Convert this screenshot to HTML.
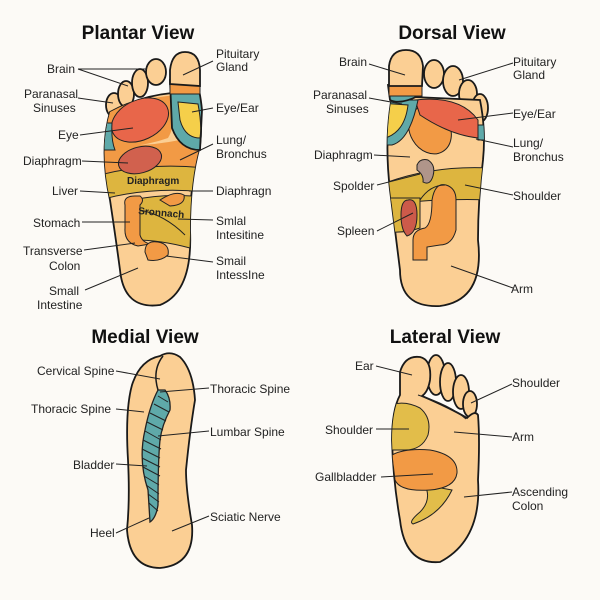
<!DOCTYPE html>
<html><head><meta charset="utf-8"><style>
html,body{margin:0;padding:0;background:#fcfaf6;}
svg{display:block}
text{font-family:"Liberation Sans",sans-serif;fill:#222;font-size:12px}
.t{font-weight:bold;font-size:19px;fill:#111;text-anchor:middle}
.l{stroke:#222;stroke-width:1;fill:none}
.o{stroke:#1a1a1a;stroke-width:1.8}
</style></head><body>
<svg width="600" height="600" viewBox="0 0 600 600">
<defs>
<clipPath id="cp"><path d="M110,112 Q140,96 172,93 L198,96 Q203,120 200,146 Q190,180 190,230 Q193,292 160,305 Q124,310 120,270 Q116,240 110,200 Q99,150 110,112 Z"/></clipPath>
<clipPath id="cd"><path d="M392,96 Q440,98 480,100 Q486,130 483,160 Q478,200 478,240 Q485,300 440,306 Q400,308 400,270 Q395,230 390,190 Q384,140 392,96 Z"/></clipPath>
<clipPath id="cl"><path d="M398,400 Q405,372 430,378 Q470,390 475,410 Q478,440 478,480 Q482,540 440,562 Q405,565 400,520 Q393,480 392,440 Q392,415 398,400 Z"/></clipPath>
</defs>

<!-- ========== PLANTAR ========== -->
<text class="t" x="138" y="39">Plantar View</text>
<ellipse class="o" cx="114" cy="105" rx="8" ry="12" fill="#fbcf94"/>
<ellipse class="o" cx="126" cy="94" rx="8" ry="13" fill="#fbcf94"/>
<ellipse class="o" cx="140" cy="83" rx="8" ry="14" fill="#fbcf94"/>
<ellipse class="o" cx="156" cy="72" rx="10" ry="13" fill="#fbcf94"/>
<path class="o" fill="#fbcf94" d="M110,112 Q140,96 172,93 L198,96 Q203,120 200,146 Q190,180 190,230 Q193,292 160,305 Q124,310 120,270 Q116,240 110,200 Q99,150 110,112 Z"/>
<g clip-path="url(#cp)">
<path d="M100,140 Q130,150 180,140 L205,150 L205,168 Q150,166 100,175 Z" fill="#f29a45"/>
<path d="M100,105 L175,95 Q176,125 168,138 Q140,148 100,148 Z" fill="#f29a45"/>
<ellipse cx="140" cy="120" rx="30" ry="20" transform="rotate(-25 140 120)" fill="#e8664a" stroke="#222" stroke-width="1"/>
<path d="M100,123 L112,123 Q111,140 115,150 L100,150 Z" fill="#5fa9a9" stroke="#222"/>
<path d="M100,175 Q150,162 205,168 L205,192 Q150,186 100,200 Z" fill="#ddb53f" stroke="#222" stroke-width="1"/>
<path d="M133,200 Q160,194 192,196 L190,248 Q160,240 136,240 Z" fill="#ddb53f" stroke="#222" stroke-width="1"/>
<path d="M125,205 Q123,196 135,196 L140,196 Q145,200 140,205 L140,235 Q142,242 150,244 L138,246 Q124,243 125,228 Z" fill="#f29a45" stroke="#222"/>
<path d="M160,200 Q175,190 184,195 Q186,205 170,206 Z" fill="#f29a45" stroke="#222"/>
<path d="M145,252 Q145,240 158,242 Q170,244 168,255 Q160,262 148,260 Z" fill="#f29a45" stroke="#222"/>
<path class="l" d="M140,210 Q165,215 185,235"/>
</g>
<ellipse cx="140" cy="160" rx="22" ry="13" transform="rotate(-15 140 160)" fill="#d1614e" stroke="#222"/>
<path class="o" fill="#5fa9a9" d="M170,80 L172,128 Q180,150 200,150 L202,110 Q200,90 196,80 Z"/>
<path fill="#f5cf4a" stroke="#222" d="M178,102 L198,104 Q202,125 200,138 Q185,138 180,120 Z"/>
<rect x="170" y="82" width="30" height="12" fill="#f29a45" stroke="#222"/>
<path class="o" fill="#fbcf94" d="M170,84 L170,70 Q172,52 185,52 Q199,52 200,70 L200,86 Z"/>
<text x="127" y="184" style="font-size:10px;font-weight:bold">Diaphragm</text>
<text x="138" y="214" style="font-size:10px;font-weight:bold" transform="rotate(5 138 214)">Sronnach</text>
<g class="l">
<path d="M78,69 L147,69 M78,69 L128,86 M78,98 L113,103 M80,135 L133,128 M82,161 L128,163 M80,191 L115,193 M82,222 L130,222 M84,250 L135,243 M85,290 L138,268 M213,61 L183,75 M213,108 L192,112 M213,144 L180,160 M213,191 L189,191 M213,220 L178,219 M213,262 L166,256"/>
</g>
<text x="47" y="73">Brain</text>
<text x="24" y="98">Paranasal</text><text x="33" y="112">Sinuses</text>
<text x="58" y="139">Eye</text>
<text x="23" y="165">Diaphragm</text>
<text x="52" y="195">Liver</text>
<text x="33" y="227">Stomach</text>
<text x="23" y="255">Transverse</text><text x="49" y="270">Colon</text>
<text x="49" y="295">Small</text><text x="37" y="309">Intestine</text>
<text x="216" y="58">Pituitary</text><text x="216" y="71">Gland</text>
<text x="216" y="112">Eye/Ear</text>
<text x="216" y="144">Lung/</text><text x="216" y="158">Bronchus</text>
<text x="216" y="195">Diaphragn</text>
<text x="216" y="225">Smlal</text><text x="216" y="239">Intesitine</text>
<text x="216" y="265">Smail</text><text x="216" y="279">IntessIne</text>

<!-- ========== DORSAL ========== -->
<text class="t" x="452" y="39">Dorsal View</text>
<ellipse class="o" cx="434" cy="74" rx="10" ry="14" fill="#fbcf94"/>
<ellipse class="o" cx="453" cy="81" rx="10" ry="15" fill="#fbcf94"/>
<ellipse class="o" cx="468" cy="94" rx="9" ry="14" fill="#fbcf94"/>
<ellipse class="o" cx="480" cy="108" rx="8" ry="14" fill="#fbcf94"/>
<path class="o" fill="#fbcf94" d="M392,96 Q440,98 480,100 Q486,130 483,160 Q478,200 478,240 Q485,300 440,306 Q400,308 400,270 Q395,230 390,190 Q384,140 392,96 Z"/>
<g clip-path="url(#cd)">
<path d="M478,125 L490,125 L490,140 L478,140 Z" fill="#5fa9a9" stroke="#222"/>
<ellipse cx="430" cy="130" rx="20" ry="25" transform="rotate(-30 430 130)" fill="#f29a45" stroke="#222"/>
<path d="M415,100 Q460,95 478,120 L478,138 Q450,135 420,115 Z" fill="#e8664a" stroke="#222"/>
<path d="M380,100 L418,100 Q410,140 392,145 L380,145 Z" fill="#5fa9a9" stroke="#222"/>
<path d="M380,103 L408,105 Q405,130 388,137 L380,137 Z" fill="#f5cf4a" stroke="#222"/>
<path d="M380,185 Q430,165 490,168 L490,200 Q440,198 380,205 Z" fill="#ddb53f" stroke="#222"/>
<path d="M380,198 L420,198 L420,228 Q400,235 380,230 Z" fill="#ddb53f" stroke="#222"/>
<path d="M413,260 L413,240 Q413,230 425,228 Q432,224 432,200 Q435,182 446,185 Q456,188 456,200 L456,230 Q452,245 440,245 L427,247 L427,260 Z" fill="#f29a45" stroke="#222"/>
<path d="M420,200 Q430,185 445,185" class="l"/>
</g>
<path fill="#b0958a" stroke="#222" d="M417,165 Q420,158 428,160 Q436,165 433,176 Q430,186 423,182 Q424,175 417,170 Z"/>
<path fill="#cc5a4a" stroke="#222" d="M408,200 Q417,198 417,215 Q417,233 407,236 Q401,230 401,215 Q401,200 408,200 Z"/>
<path class="o" fill="#5fa9a9" d="M388,85 L390,100 Q400,105 418,96 L418,85 Z"/>
<rect x="389" y="84" width="33" height="12" fill="#f29a45" stroke="#222"/>
<path class="o" fill="#fbcf94" d="M389,86 L389,66 Q391,50 406,50 Q421,50 423,66 L422,86 Z"/>
<g class="l">
<path d="M369,64 L405,75 M369,98 L402,104 M374,155 L410,157 M377,185 L420,174 M377,231 L413,213 M513,63 L459,80 M513,113 L458,120 M513,147 L476,139 M513,195 L465,185 M513,288 L451,266"/>
</g>
<text x="339" y="66">Brain</text>
<text x="313" y="99">Paranasal</text><text x="326" y="113">Sinuses</text>
<text x="314" y="159">Diaphragm</text>
<text x="333" y="190">Spolder</text>
<text x="337" y="235">Spleen</text>
<text x="513" y="66">Pituitary</text><text x="513" y="79">Gland</text>
<text x="513" y="118">Eye/Ear</text>
<text x="513" y="147">Lung/</text><text x="513" y="161">Bronchus</text>
<text x="513" y="200">Shoulder</text>
<text x="511" y="293">Arm</text>

<!-- ========== MEDIAL ========== -->
<text class="t" x="145" y="343">Medial View</text>
<path class="o" fill="#fbcf94" d="M160,356 Q140,360 132,385 Q125,410 128,460 Q130,500 127,530 Q130,568 160,568 Q195,565 192,525 Q186,490 186,470 Q190,430 195,400 Q193,370 180,357 Q170,350 160,356 Z"/>
<path fill="none" stroke="#1a1a1a" stroke-width="1.5" d="M163,356 Q152,370 158,390"/>
<path fill="#5fa9a9" stroke="#222" stroke-width="1.3" d="M158,390 Q150,405 145,430 Q138,460 148,490 L150,522 Q156,518 158,505 Q158,460 160,440 Q162,425 170,410 Q171,398 165,390 Z"/>
<g class="l" stroke-width="0.9">
<path d="M158,396 L168,402 M154,404 L169,412 M150,413 L166,421 M147,422 L163,430 M145,431 L161,440 M143,440 L161,449 M142,449 L160,458 M142,458 L160,467 M143,467 L160,476 M144,476 L159,485 M146,485 L159,494 M148,494 L159,502 M149,503 L158,511"/>
</g>
<g class="l">
<path d="M116,371 L160,379 M116,409 L144,412 M209,388 L160,392 M209,431 L158,436 M116,464 L147,466 M116,533 L149,518 M209,516 L172,531"/>
</g>
<text x="37" y="375">Cervical Spine</text>
<text x="31" y="413">Thoracic Spine</text>
<text x="73" y="469">Bladder</text>
<text x="90" y="537">Heel</text>
<text x="210" y="393">Thoracic Spine</text>
<text x="210" y="436">Lumbar Spine</text>
<text x="210" y="521">Sciatic Nerve</text>

<!-- ========== LATERAL ========== -->
<text class="t" x="445" y="343">Lateral View</text>
<ellipse class="o" cx="436" cy="375" rx="9" ry="20" fill="#fbcf94"/>
<ellipse class="o" cx="448" cy="382" rx="8" ry="19" fill="#fbcf94"/>
<ellipse class="o" cx="461" cy="392" rx="8" ry="17" fill="#fbcf94"/>
<ellipse class="o" cx="470" cy="404" rx="7" ry="13" fill="#fbcf94"/>
<path class="o" fill="#fbcf94" d="M400,372 Q405,355 420,357 Q432,360 430,380 Q428,392 422,396 Q450,408 467,418 Q475,410 478,415 Q480,440 478,480 Q482,540 440,562 Q405,565 400,520 Q393,480 392,440 Q392,410 400,395 Z"/>
<path class="l" stroke-width="1.3" d="M418,395 Q450,405 466,419"/>
<g clip-path="url(#cl)">
<path fill="#e2bd4a" stroke="#222" d="M390,405 Q405,400 420,408 Q432,418 428,435 Q422,450 405,450 L390,450 Z"/>
<path fill="#e2bd4a" stroke="#222" d="M425,485 Q432,500 420,512 Q408,522 413,524 Q440,515 452,490 Z"/>
<path fill="#f29a45" stroke="#222" d="M392,455 Q405,448 430,450 Q458,455 457,473 Q455,488 430,490 Q400,492 395,480 Z"/>
</g>
<g class="l">
<path d="M376,366 L412,375 M376,429 L409,429 M381,477 L433,474 M512,384 L471,403 M512,437 L454,432 M512,492 L464,497"/>
</g>
<text x="355" y="370">Ear</text>
<text x="325" y="434">Shoulder</text>
<text x="315" y="481">Gallbladder</text>
<text x="512" y="387">Shoulder</text>
<text x="512" y="441">Arm</text>
<text x="512" y="496">Ascending</text><text x="512" y="510">Colon</text>
</svg>
</body></html>
